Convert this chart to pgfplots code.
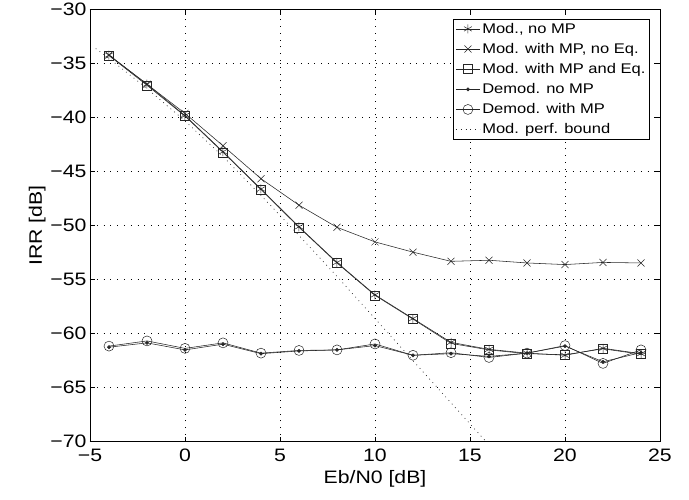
\documentclass[border=0pt]{standalone}
\usepackage{pgfplots}
\pgfplotsset{compat=1.18}
\usepackage{fontspec}
\setmainfont{Liberation Sans}[FakeStretch=1.18]
\begin{document}
\begin{tikzpicture}[x=1pt,y=1pt]
\path (-90,-58) rectangle (599,441);
\begin{axis}[
  at={(0,0)}, anchor=south west,
  scale only axis, width=570pt, height=432pt,
  xmin=-5, xmax=25, ymin=-70, ymax=-30,
  xtick={-5,0,5,10,15,20,25},
  xticklabels={−5,0,5,10,15,20,25},
  ytick={-70,-65,-60,-55,-50,-45,-40,-35,-30},
  yticklabels={−70,−65,−60,−55,−50,−45,−40,−35,−30},
  tick align=inside, tick pos=both,
  major tick length=5pt,
  grid=major,
  major grid style={black, line width=0.6pt, dash pattern=on 0.8pt off 6pt},
  axis line style={black, line width=0.6pt},
  tick style={black, line width=0.6pt},
  ticklabel style={font=\fontsize{18}{20}\selectfont},
  xticklabel style={yshift=-4pt},
  label style={font=\fontsize{18}{20}\selectfont},
  xlabel={Eb/N0 [dB]}, ylabel={IRR [dB]},
  xlabel style={yshift=-2pt},
  ylabel style={yshift=-2pt},
  legend style={at={(0.982,0.979)}, anchor=north east, draw=black, line width=0.6pt,
    font=\fontsize{14}{15}\selectfont, cells={anchor=west}, inner sep=2pt,
    row sep=4.5pt},
  legend image code/.code={\draw[mark repeat=2,mark phase=2] plot coordinates {(0pt,0pt) (12pt,0pt) (24pt,0pt)};},
  every axis plot/.append style={line width=0.55pt, black!85},
]
\addplot[mark=asterisk, mark size=4.5pt, mark options={solid, line width=0.5pt}] coordinates {
(-4,-34.2) (-2,-36.9) (0,-39.8) (2,-43.15) (4,-46.6) (6,-50.1) (8,-53.4) (10,-56.4) (12,-58.6) (14,-60.8) (16,-61.45) (18,-61.8) (20,-62.0) (22,-61.35) (24,-61.85)};
\addlegendentry{Mod., no MP}
\addplot[mark=x, mark size=5pt, mark options={solid, line width=0.5pt}] coordinates {
(-4,-34.2) (-2,-36.9) (0,-39.6) (2,-42.6) (4,-45.65) (6,-48.1) (8,-50.15) (10,-51.5) (12,-52.45) (14,-53.3) (16,-53.2) (18,-53.45) (20,-53.6) (22,-53.4) (24,-53.45)};
\addlegendentry{Mod. with MP, no Eq.}
\addplot[mark=square, mark size=4.5pt, mark options={solid, line width=0.5pt}] coordinates {
(-4,-34.25) (-2,-37.0) (0,-39.85) (2,-43.2) (4,-46.65) (6,-50.15) (8,-53.45) (10,-56.45) (12,-58.65) (14,-60.9) (16,-61.5) (18,-61.85) (20,-61.95) (22,-61.4) (24,-61.9)};
\addlegendentry{Mod. with MP and Eq.}
\addplot[mark=*, mark size=1.6pt, mark options={solid}] coordinates {
(-4,-61.25) (-2,-60.85) (0,-61.5) (2,-60.97) (4,-61.85) (6,-61.6) (8,-61.5) (10,-61.1) (12,-62.0) (14,-61.85) (16,-62.1) (18,-61.8) (20,-61.15) (22,-62.6) (24,-61.75)};
\addlegendentry{Demod. no MP}
\addplot[mark=o, mark size=5pt, mark options={solid, line width=0.5pt}] coordinates {
(-4,-61.15) (-2,-60.67) (0,-61.36) (2,-60.85) (4,-61.8) (6,-61.55) (8,-61.5) (10,-60.95) (12,-62.0) (14,-61.76) (16,-62.2) (18,-61.8) (20,-61.1) (22,-62.75) (24,-61.5)};
\addlegendentry{Demod. with MP}
\addplot[no marks, line width=0.7pt, dash pattern=on 0.8pt off 4pt] coordinates {
(-4.7,-33.6) (-4,-34.5) (-2,-37.3) (0,-40.3) (2,-43.6) (4,-47.2) (6,-50.9) (8,-54.7) (10,-58.6) (12,-62.5) (14,-66.4) (16,-70.3)};
\addlegendentry{Mod. perf. bound}
\end{axis}
\end{tikzpicture}
\end{document}
